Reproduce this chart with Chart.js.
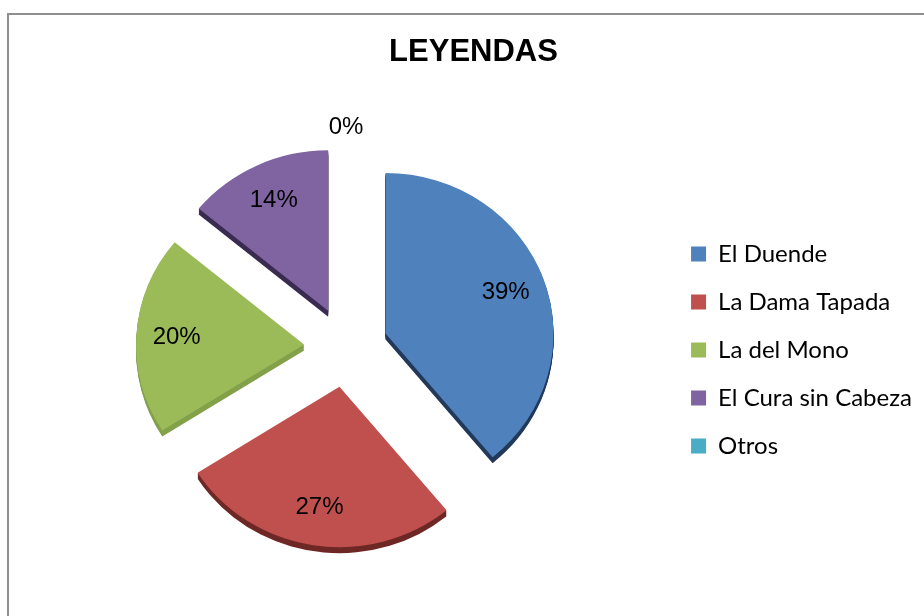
<!DOCTYPE html>
<html>
<head>
<meta charset="utf-8">
<script src="https://cdn.jsdelivr.net/npm/chart.js@4/dist/chart.umd.min.js"></script>
<style>
html,body{margin:0;padding:0;background:#fff;}
canvas{display:block;}
</style>
</head>
<body>
<canvas id="c" width="924" height="616"></canvas>
<script>
const categories = ['El Duende', 'La Dama Tapada', 'La del Mono', 'El Cura sin Cabeza', 'Otros'];
const values = [39, 27, 20, 14, 0];
const colors = ['#4F81BD', '#C0504D', '#9BBB59', '#8064A2', '#4BACC6'];
const sideColors = ['#22395A', '#6E2826', '#83A14A', '#3A2B50', '#23596A'];

const EXPLODE = 42;   // px each slice is pulled out from the centre
const RADIUS = 168;
const DEPTH = 6;
const Y_SCALE = 0.955; // slight 3-D tilt
const total = values.reduce((a, b) => a + b, 0);

const framePlugin = {
  id: 'frame',
  beforeDraw(chart) {
    const ctx = chart.ctx;
    ctx.save();
    ctx.fillStyle = '#fff';
    ctx.fillRect(0, 0, chart.width, chart.height);
    ctx.strokeStyle = '#8e8e8e';
    ctx.lineWidth = 2;
    ctx.strokeRect(8, 14, chart.width + 50, chart.height + 50);
    ctx.restore();
  }
};

// draws exploded, tilted, extruded slices using the arc elements' own geometry
const explodedPie = {
  id: 'explodedPie',
  beforeDatasetDraw(chart, args) {
    const ctx = chart.ctx;
    const els = args.meta.data;
    if (!els.length) return;
    const cx = els[0].x, cy = els[0].y;
    ctx.save();
    ctx.translate(cx, cy);
    ctx.scale(1, Y_SCALE);
    ctx.translate(-cx, -cy);
    // sides
    els.forEach((el, i) => {
      if (el.endAngle - el.startAngle <= 0) return;
      const half = (el.startAngle + el.endAngle) / 2;
      const dx = Math.cos(half) * EXPLODE, dy = Math.sin(half) * EXPLODE;
      for (let d = DEPTH; d >= 1; d--) {
        ctx.beginPath();
        const x = el.x + dx, y = el.y + dy + d / Y_SCALE;
        ctx.moveTo(x, y);
        ctx.arc(x, y, el.outerRadius, el.startAngle, el.endAngle);
        ctx.closePath();
        ctx.fillStyle = sideColors[i];
        ctx.fill();
      }
    });
    // faces
    els.forEach((el) => {
      if (el.endAngle - el.startAngle <= 0) return;
      const half = (el.startAngle + el.endAngle) / 2;
      ctx.save();
      ctx.translate(Math.cos(half) * EXPLODE, Math.sin(half) * EXPLODE);
      el.draw(ctx);
      ctx.restore();
    });
    ctx.restore();
    return false;
  }
};

const labelPlugin = {
  id: 'pctLabels',
  afterDatasetsDraw(chart) {
    const ctx = chart.ctx;
    const meta = chart.getDatasetMeta(0);
    ctx.save();
    ctx.font = '24px "Liberation Sans", Arial, sans-serif';
    ctx.fillStyle = '#000';
    ctx.textAlign = 'center';
    ctx.textBaseline = 'middle';
    meta.data.forEach((el, i) => {
      const v = values[i];
      const half = (el.startAngle + el.endAngle) / 2;
      const dist = v === 0 ? EXPLODE + el.outerRadius + 20 : EXPLODE + el.outerRadius * 0.76;
      const x = el.x + Math.cos(half) * dist;
      const y = el.y + Math.sin(half) * dist * Y_SCALE;
      ctx.fillText(Math.round(v / total * 100) + '%', x, y);
    });
    ctx.restore();
  }
};

new Chart(document.getElementById('c'), {
  type: 'pie',
  data: {
    labels: categories,
    datasets: [{
      data: values,
      backgroundColor: colors,
      borderWidth: 0,
      hoverOffset: 0
    }]
  },
  options: {
    responsive: false,
    animation: false,
    devicePixelRatio: 1,
    radius: RADIUS,
    layout: {padding: {left: 25, right: 2, top: 0, bottom: 3}},
    plugins: {
      tooltip: {enabled: false},
      title: {
        display: true,
        text: 'LEYENDAS',
        color: '#000',
        font: {family: '"Liberation Sans", Arial, sans-serif', size: 31, weight: 'bold'},
        padding: {top: 34, bottom: 10}
      },
      legend: {
        position: 'right',
        fullSize: false,
        title: {display: true, text: '', font: {size: 1, lineHeight: 1}, padding: {top: 5, bottom: 0}},
        labels: {
          color: '#000',
          boxWidth: 15,
          boxHeight: 15,
          padding: 24,
          font: {family: 'Lato, "Open Sans", sans-serif', size: 24}
        }
      }
    }
  },
  plugins: [framePlugin, explodedPie, labelPlugin]
});
</script>
</body>
</html>
